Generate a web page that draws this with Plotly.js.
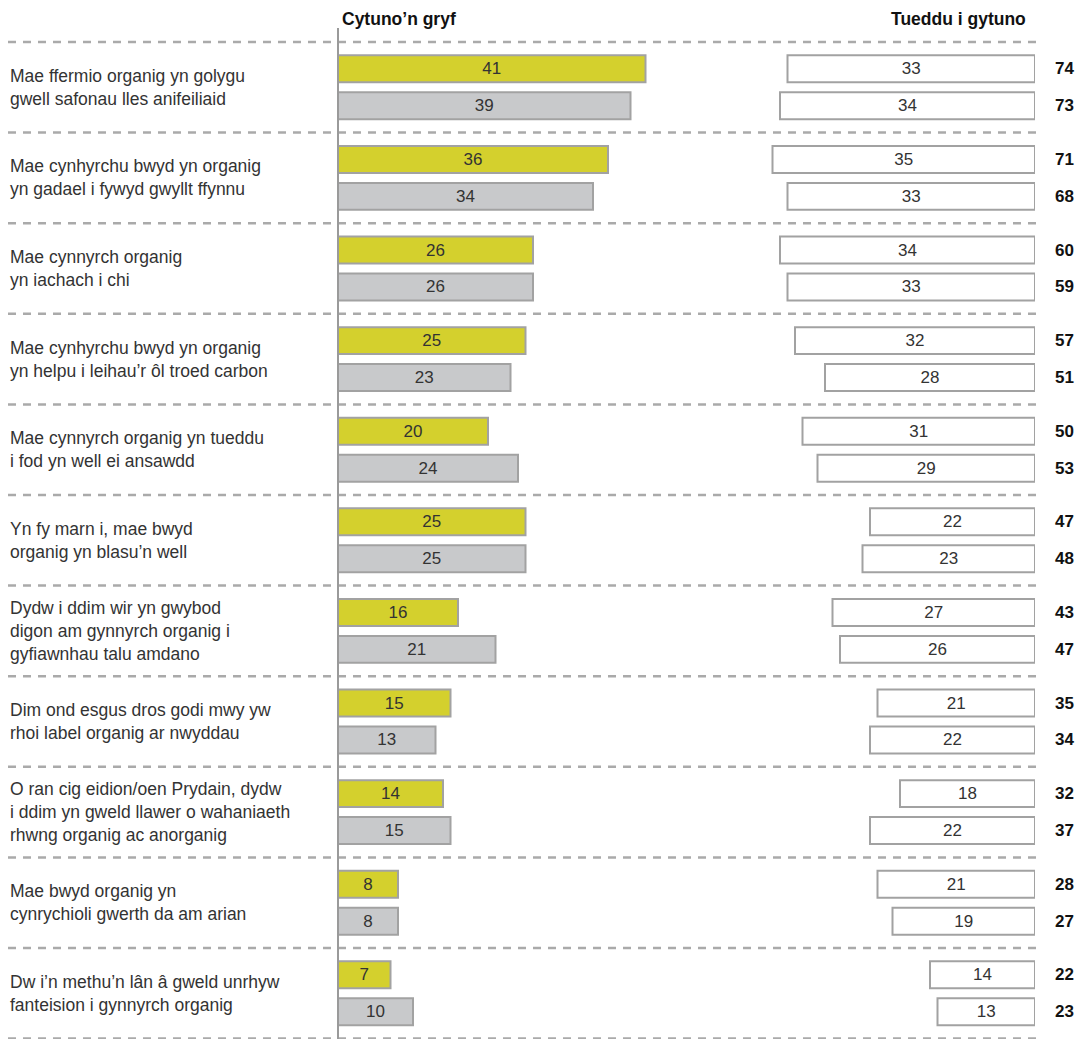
<!DOCTYPE html>
<html>
<head>
<meta charset="utf-8">
<script src="https://cdn.plot.ly/plotly-3.0.1.min.js"></script>
<style>
  html, body { margin: 0; padding: 0; background: #ffffff; }
  #chart { width: 1085px; height: 1039px; }
</style>
</head>
<body>
<div id="chart"></div>
<script>
// Statements (Welsh), one per group
const statements = [
  "Mae ffermio organig yn golygu<br>gwell safonau lles anifeiliaid",
  "Mae cynhyrchu bwyd yn organig<br>yn gadael i fywyd gwyllt ffynnu",
  "Mae cynnyrch organig<br>yn iachach i chi",
  "Mae cynhyrchu bwyd yn organig<br>yn helpu i leihau’r ôl troed carbon",
  "Mae cynnyrch organig yn tueddu<br>i fod yn well ei ansawdd",
  "Yn fy marn i, mae bwyd<br>organig yn blasu’n well",
  "Dydw i ddim wir yn gwybod<br>digon am gynnyrch organig i<br>gyfiawnhau talu amdano",
  "Dim ond esgus dros godi mwy yw<br>rhoi label organig ar nwyddau",
  "O ran cig eidion/oen Prydain, dydw<br>i ddim yn gweld llawer o wahaniaeth<br>rhwng organig ac anorganig",
  "Mae bwyd organig yn<br>cynrychioli gwerth da am arian",
  "Dw i’n methu’n lân â gweld unrhyw<br>fanteision i gynnyrch organig"
];

// "Cytuno'n gryf" – first (yellow) and second (grey) series
const stronglyA = [41, 36, 26, 25, 20, 25, 16, 15, 14, 8, 7];
const stronglyB = [39, 34, 26, 23, 24, 25, 21, 13, 15, 8, 10];

// "Tueddu i gytuno" – first and second series
const tendA = [33, 35, 34, 32, 31, 22, 27, 21, 18, 21, 14];
const tendB = [34, 33, 33, 28, 29, 23, 26, 22, 22, 19, 13];

// Combined agreement totals
const totalA = [74, 71, 60, 57, 50, 47, 43, 35, 32, 28, 22];
const totalB = [73, 68, 59, 51, 53, 48, 47, 34, 37, 27, 23];

const headerLeft = "Cytuno’n gryf";
const headerRight = "Tueddu i gytuno";

const W = 1085, H = 1039;
const FONT = "Liberation Sans, Arial, Helvetica, sans-serif";
const BORDER = "#a2a2a2";
const TEXT = "#333333";

function barTrace(values, fill, xaxis) {
  return {
    type: "bar",
    orientation: "h",
    x: values,
    y: statements,
    xaxis: xaxis,
    yaxis: "y",
    marker: { color: fill, line: { color: BORDER, width: 2 } },
    text: values.map(String),
    textposition: "inside",
    insidetextanchor: "middle",
    constraintext: "none",
    textangle: 0,
    insidetextfont: { family: FONT, size: 17, color: TEXT },
    hoverinfo: "skip",
    cliponaxis: false
  };
}

const traces = [
  barTrace(stronglyA, "#d4d02d", "x"),
  barTrace(stronglyB, "#c8c9cb", "x"),
  barTrace(tendA, "#ffffff", "x2"),
  barTrace(tendB, "#ffffff", "x2")
];

// Geometry of the panels (pixels)
const axisX = 338, split = 720, rightEnd = 1035;
const pxPerUnit = 7.5;
const rowTop = 87.3, rowStep = 90.6;

const annotations = [];
statements.forEach((s, i) => {
  annotations.push({
    xref: "paper", yref: "y", x: 8 / W, y: i,
    xanchor: "left", yanchor: "middle", align: "left",
    text: s, showarrow: false,
    font: { family: FONT, size: 17.5, color: TEXT }
  });
  [[totalA[i], -0.204], [totalB[i], 0.204]].forEach(([v, off]) => {
    annotations.push({
      xref: "paper", yref: "y", x: 1064 / W, y: i + off,
      xanchor: "center", yanchor: "middle",
      text: "<b>" + v + "</b>", showarrow: false,
      font: { family: FONT, size: 17, color: "#111111" }
    });
  });
});
annotations.push({
  xref: "paper", yref: "paper", x: (axisX + 2) / W, y: 1 - 19 / H,
  xanchor: "left", yanchor: "middle", showarrow: false,
  text: "<b>" + headerLeft + "</b>",
  font: { family: FONT, size: 17.5, color: "#111111" }
});
annotations.push({
  xref: "paper", yref: "paper", x: 1028 / W, y: 1 - 19 / H,
  xanchor: "right", yanchor: "middle", showarrow: false,
  text: "<b>" + headerRight + "</b>",
  font: { family: FONT, size: 17.5, color: "#111111" }
});

// Dashed separators between groups and the vertical baseline
const shapes = [];
for (let i = 0; i <= statements.length; i++) {
  shapes.push({
    type: "line", xref: "paper", yref: "y",
    x0: 8 / W, x1: 1037 / W, y0: i - 0.5, y1: i - 0.5,
    line: { color: "#aaaaaa", width: 2.5, dash: "8px,7px" },
    layer: "below"
  });
}
shapes.push({
  type: "line", xref: "paper", yref: "paper",
  x0: axisX / W, x1: axisX / W, y0: 0, y1: 1 - 28 / H,
  line: { color: "#9a9a9a", width: 2 },
  layer: "above"
});

const layout = {
  width: W, height: H,
  margin: { l: 0, r: 0, t: 0, b: 0, pad: 0 },
  paper_bgcolor: "#ffffff", plot_bgcolor: "rgba(0,0,0,0)",
  showlegend: false,
  barmode: "group",
  bargap: 0.184,
  bargroupgap: 0.27,
  xaxis: {
    domain: [axisX / W, split / W],
    range: [0, (split - axisX) / pxPerUnit],
    visible: false, fixedrange: true
  },
  xaxis2: {
    domain: [split / W, rightEnd / W],
    range: [(rightEnd - split) / pxPerUnit, 0],
    anchor: "y",
    visible: false, fixedrange: true
  },
  yaxis: {
    type: "category",
    categoryorder: "array",
    categoryarray: statements,
    range: [(H - rowTop) / rowStep, -rowTop / rowStep],
    domain: [0, 1],
    visible: false, fixedrange: true
  },
  annotations: annotations,
  shapes: shapes,
  font: { family: FONT, color: TEXT }
};

Plotly.newPlot("chart", traces, layout, { staticPlot: true, displayModeBar: false });
</script>
</body>
</html>
